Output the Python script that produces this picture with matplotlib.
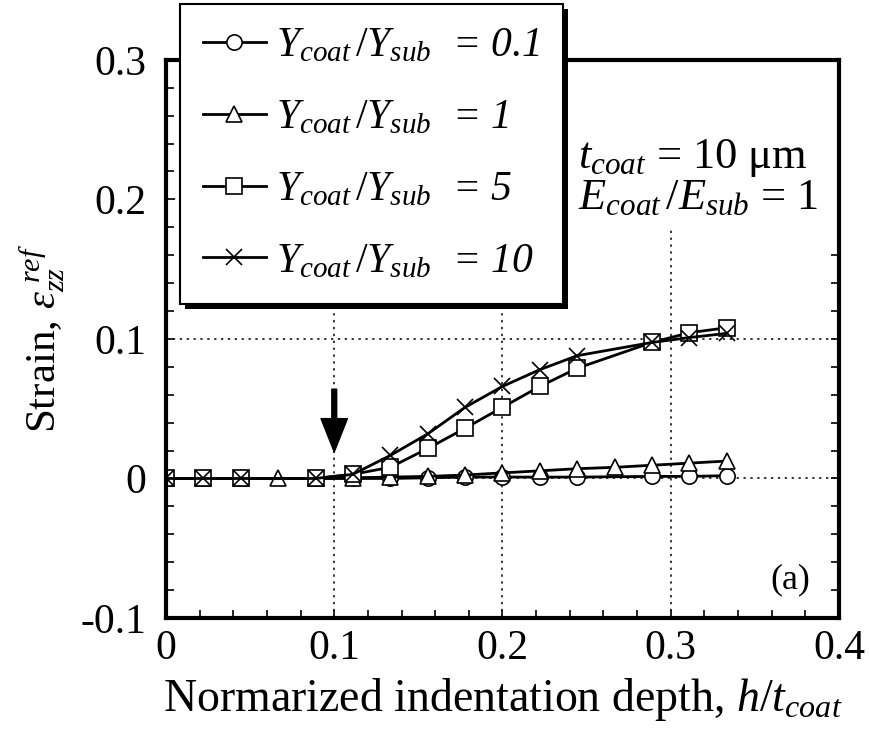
import numpy as np
import matplotlib.pyplot as plt
from matplotlib.ticker import MultipleLocator, FuncFormatter
from matplotlib.patches import Rectangle
from matplotlib.transforms import IdentityTransform

plt.rcParams['font.family'] = 'Liberation Serif'
plt.rcParams['mathtext.fontset'] = 'custom'
plt.rcParams['mathtext.rm'] = 'Liberation Serif'
plt.rcParams['mathtext.it'] = 'Liberation Serif:italic'
plt.rcParams['axes.unicode_minus'] = False

# normalized depth h/t_coat (some series skip a few depths)
h_full = [0, 0.0222, 0.0444, 0.0667, 0.0889, 0.1111, 0.1333, 0.1556,
          0.1778, 0.2, 0.2222, 0.2444, 0.2667, 0.2889, 0.3111, 0.3333]
h_part = [0, 0.0222, 0.0444, 0.0889, 0.1111, 0.1333, 0.1556, 0.1778,
          0.2, 0.2222, 0.2444, 0.2889, 0.3111, 0.3333]

# strain eps_zz^ref for each Y_coat/Y_sub
strain_01 = [0, 0, 0, 0, 0, 0, 0.0005, 0.001, 0.001, 0.001, 0.001,
             0.0015, 0.0015, 0.002]
strain_1 = [0, 0, 0, 0, 0, 0.0005, 0.001, 0.0015, 0.0025, 0.004, 0.0055,
            0.007, 0.008, 0.0095, 0.011, 0.0125]
strain_5 = [0, 0, 0, 0, 0.003, 0.008, 0.0215, 0.036, 0.051, 0.066, 0.079,
            0.0975, 0.1045, 0.108]
strain_10 = [0, 0, 0, 0, 0.003, 0.0165, 0.032, 0.051, 0.066, 0.078, 0.088,
             0.0975, 0.101, 0.104]

ratios = ['0.1', '1', '5', '10']
labels = [r'$Y_{coat}\,/Y_{sub}$  = ' + r for r in ratios]

fig = plt.figure(figsize=(8.69, 7.39), dpi=100)
ax = fig.add_axes([0.191, 0.1637, 0.7745, 0.7553])

ax.set_axisbelow(True)
ax.grid(which='major', linestyle=(0, (1.5, 3)), color='k', lw=1.1)

# white patch behind the annotation text (hides grid)
ax.add_patch(Rectangle((0.45, 0.695), 0.55, 0.305, transform=ax.transAxes,
                       fc='white', ec='none', zorder=1))

common = dict(color='k', lw=2, mfc='white', mec='k', mew=1.2, ms=11)
ax.plot(h_part, strain_01, marker='o', label=labels[0], **common)
ax.plot(h_full, strain_1, marker='^', label=labels[1], **common)
ax.plot(h_part, strain_5, marker='s', label=labels[2], **common)
ax.plot(h_part, strain_10, marker='x', label=labels[3], **common)

ax.annotate('', xy=(0.1, 0.019), xytext=(0.1, 0.064),
            arrowprops=dict(facecolor='k', edgecolor='k', width=3.5,
                            headwidth=19, headlength=24))

ax.set_xlim(0, 0.4)
ax.set_ylim(-0.1, 0.3)
ax.xaxis.set_major_locator(MultipleLocator(0.1))
ax.xaxis.set_minor_locator(MultipleLocator(0.02))
ax.yaxis.set_major_locator(MultipleLocator(0.1))
ax.yaxis.set_minor_locator(MultipleLocator(0.02))
fmt = FuncFormatter(lambda v, p: '%g' % round(v, 3))
ax.xaxis.set_major_formatter(fmt)
ax.yaxis.set_major_formatter(fmt)
ax.tick_params(which='both', direction='in', top=True, right=True,
               length=6, width=1.2, labelsize=30)
ax.tick_params(axis='x', pad=8)
ax.tick_params(axis='y', pad=14)
for s in ax.spines.values():
    s.set_linewidth(3)

ax.set_xlabel(r'Normarized indentation depth, $h/t_{coat}$', fontsize=33,
              labelpad=6)
ax.set_ylabel(r'Strain, $\varepsilon_{zz}^{\ ref}$', fontsize=31, labelpad=10)

ax.text(0.612, 0.806, r'$t_{coat}$ = 10 μm', transform=ax.transAxes,
        fontsize=32, va='baseline', zorder=3)
ax.text(0.612, 0.732, r'$E_{coat}\,/E_{sub}$ = 1', transform=ax.transAxes,
        fontsize=32, va='baseline', zorder=3)
ax.text(0.927, 0.068, '(a)', transform=ax.transAxes, fontsize=26,
        ha='center', va='center')

leg = ax.legend(loc='upper left', bbox_to_anchor=(0.021, 1.1),
                prop={'size': 30, 'style': 'italic'},
                frameon=True, fancybox=False, framealpha=1,
                edgecolor='k', handlelength=1.5, handletextpad=0.25,
                labelspacing=0.8, borderpad=0.55, borderaxespad=0)
leg.get_frame().set_linewidth(1.5)
leg.set_zorder(5)

# heavy drop shadow under the legend box
fig.canvas.draw()
bb = leg.get_window_extent()
ax.add_patch(Rectangle((bb.x0 + 5, bb.y0 - 5), bb.width, bb.height,
                       transform=IdentityTransform(), fc='k', ec='none',
                       zorder=4.5, clip_on=False))

fig.savefig('out.png', dpi=100)
